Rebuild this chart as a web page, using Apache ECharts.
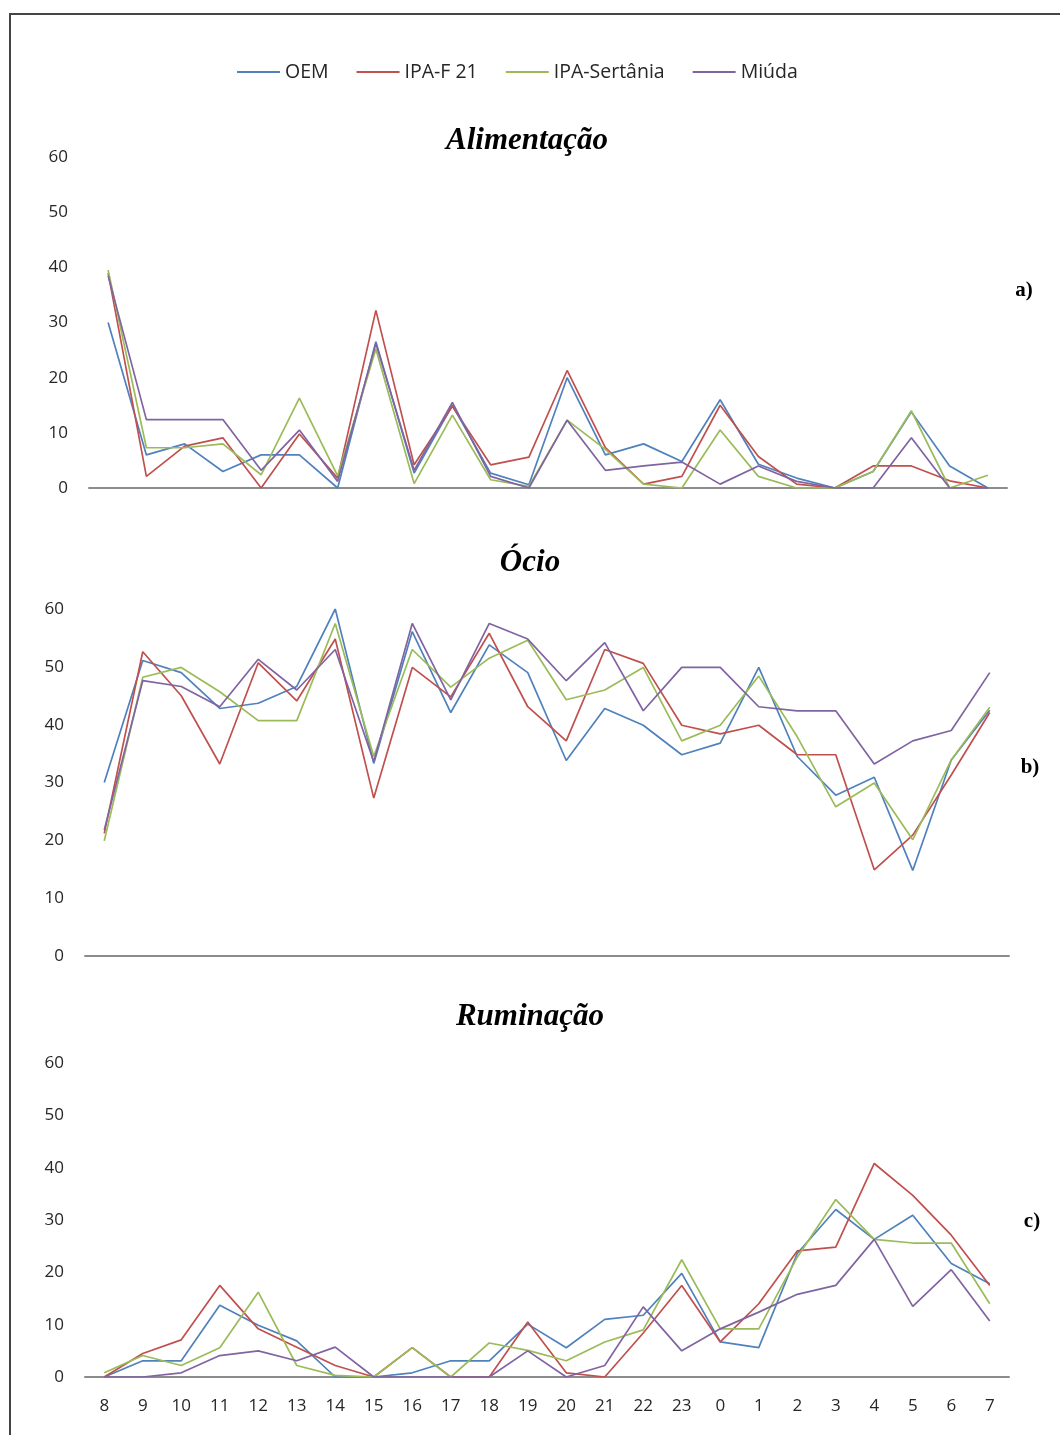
<!DOCTYPE html>
<html>
<head>
<meta charset="utf-8">
<script src="https://cdn.jsdelivr.net/npm/echarts@6/dist/echarts.min.js"></script>
<style>
html,body{margin:0;padding:0;background:#fff;}
#chart{width:1060px;height:1435px;}
</style>
</head>
<body>
<div id="chart"></div>
<script>
const hours = ['8','9','10','11','12','13','14','15','16','17','18','19','20','21','22','23','0','1','2','3','4','5','6','7'];
const seriesNames = ['OEM','IPA-F 21','IPA-Sertânia','Miúda'];
const yTicks = [0,10,20,30,40,50,60];
const panelTitles = ['Alimentação','Ócio','Ruminação'];
const panelTags = ['a)','b)','c)'];

// a) Alimentação
const alimOEM      = [30,6,8,3,6,6,0,26.5,2.7,15,2.7,0.6,20,6,8,4.8,16,4.3,1.8,0,3,13.8,4,0];
const alimIPAF21   = [39,2.1,7.6,9.1,0,9.8,1.8,32.2,4.2,14.8,4.2,5.6,21.3,7.3,0.7,2.1,15,5.7,0.7,0,4,4,1.3,0];
const alimSertania = [39.5,7.3,7.3,8,2.4,16.3,2.2,25.2,0.8,13.2,1.5,0.3,12.3,7,0.7,0,10.5,2.1,0,0,3,14,0,2.3];
const alimMiuda    = [38.5,12.4,12.4,12.4,3.2,10.5,1.2,26.2,3.2,15.5,2.1,0,12.3,3.2,4,4.7,0.7,4,1.2,0,0,9.1,0,0];

// b) Ócio
const ocioOEM      = [30,51.1,49,42.8,43.7,46.6,60,33.3,56.1,42.1,53.8,49,33.8,42.8,39.9,34.8,36.8,49.9,34.5,27.8,30.9,14.8,33.9,42.5];
const ocioIPAF21   = [21.2,52.6,45,33.2,50.7,44.1,54.8,27.3,49.9,44.8,55.8,43.1,37.2,53,50.6,39.9,38.4,39.9,34.8,34.8,14.9,20.9,31.3,42.1];
const ocioSertania = [19.9,48.2,49.9,45.7,40.7,40.7,57.5,34.5,53,46.5,51.5,54.6,44.3,46,49.9,37.2,39.9,48.4,37.9,25.8,29.9,20.1,33.9,43];
const ocioMiuda    = [21.8,47.6,46.6,43.1,51.3,46,53,33.6,57.5,44.3,57.5,54.8,47.6,54.2,42.4,49.9,49.9,43.1,42.4,42.4,33.2,37.2,39,49];

// c) Ruminação
const rumOEM      = [0,3.1,3.1,13.7,9.9,6.9,0,0,0.8,3.1,3.1,10.1,5.6,11,11.8,19.8,6.7,5.6,23.6,32,26.3,30.9,21.7,17.8];
const rumIPAF21   = [0,4.5,7.1,17.5,9.2,5.7,2.2,0,5.6,0,0,10.5,0.8,0,8.4,17.5,6.7,14,24.1,24.8,40.8,34.7,27.1,17.5];
const rumSertania = [0.8,4.1,2.2,5.6,16.2,2.2,0.3,0,5.6,0,6.5,5.1,3.1,6.7,9,22.4,9.2,9.2,22.9,33.9,26.3,25.6,25.6,14];
const rumMiuda    = [0,0,0.8,4.1,5,3.1,5.7,0,0,0,0,5,0,2.2,13.4,5,9.2,12.4,15.8,17.5,26.3,13.5,20.5,10.7];

const colors = ['#4F81BD','#C0504D','#9BBB59','#8064A2'];
const panels = [
  [alimOEM, alimIPAF21, alimSertania, alimMiuda],
  [ocioOEM, ocioIPAF21, ocioSertania, ocioMiuda],
  [rumOEM, rumIPAF21, rumSertania, rumMiuda]
];

const grids = [
  {left: 89, width: 918, top: 157, height: 331},
  {left: 85, width: 924, top: 609, height: 347},
  {left: 85, width: 924, top: 1063, height: 314}
];
const titlePos = [[527,141],[530,563],[530,1017]];
const tagPos = [[1024,291],[1030,768],[1032,1222]];

const labelFont = {fontFamily: 'Open Sans', fontSize: 17, color: '#262626'};

const xAxes = grids.map((g, i) => ({
  type: 'category', gridIndex: i, data: hours, boundaryGap: true,
  axisLine: {show: true, lineStyle: {color: '#8c8c8c', width: 2}},
  axisTick: {show: false},
  axisLabel: Object.assign({show: i === 2, margin: 21, interval: 0}, labelFont),
  splitLine: {show: false}
}));
const yAxes = grids.map((g, i) => ({
  type: 'value', gridIndex: i, min: yTicks[0], max: yTicks[yTicks.length-1], interval: 10,
  axisLine: {show: false}, axisTick: {show: false}, splitLine: {show: false},
  axisLabel: Object.assign({margin: 21, align: 'right'}, labelFont)
}));

const series = [];
panels.forEach((p, gi) => {
  p.forEach((arr, si) => {
    series.push({
      name: seriesNames[si], type: 'line', xAxisIndex: gi, yAxisIndex: gi,
      data: arr, symbol: 'none', smooth: false,
      lineStyle: {color: colors[si], width: 1.7},
      itemStyle: {color: colors[si]},
      animation: false
    });
  });
});

const graphics = [
  {type: 'rect', shape: {x: 10, y: 14, width: 1200, height: 1600}, style: {fill: 'none', stroke: '#444', lineWidth: 2}, silent: true}
];
panelTitles.forEach((t, i) => {
  graphics.push({type: 'text', x: titlePos[i][0], y: titlePos[i][1],
    style: {text: t, font: 'italic bold 31px "Liberation Serif", "Times New Roman", serif', fill: '#000', textAlign: 'center', textVerticalAlign: 'middle'}});
});
panelTags.forEach((t, i) => {
  graphics.push({type: 'text', x: tagPos[i][0], y: tagPos[i][1],
    style: {text: t, font: 'bold 21px "Liberation Serif", "Times New Roman", serif', fill: '#000', textAlign: 'center', textVerticalAlign: 'middle'}});
});

const chart = echarts.init(document.getElementById('chart'), null, {renderer: 'canvas'});
chart.setOption({
  backgroundColor: '#fff',
  animation: false,
  color: colors,
  legend: {
    data: seriesNames, left: 232, top: 57, icon: 'rect', itemWidth: 43, itemHeight: 2, itemGap: 28,
    textStyle: {fontFamily: 'Open Sans', fontSize: 19.5, color: '#262626'}
  },
  grid: grids,
  xAxis: xAxes,
  yAxis: yAxes,
  series: series,
  graphic: graphics
});
</script>
</body>
</html>
